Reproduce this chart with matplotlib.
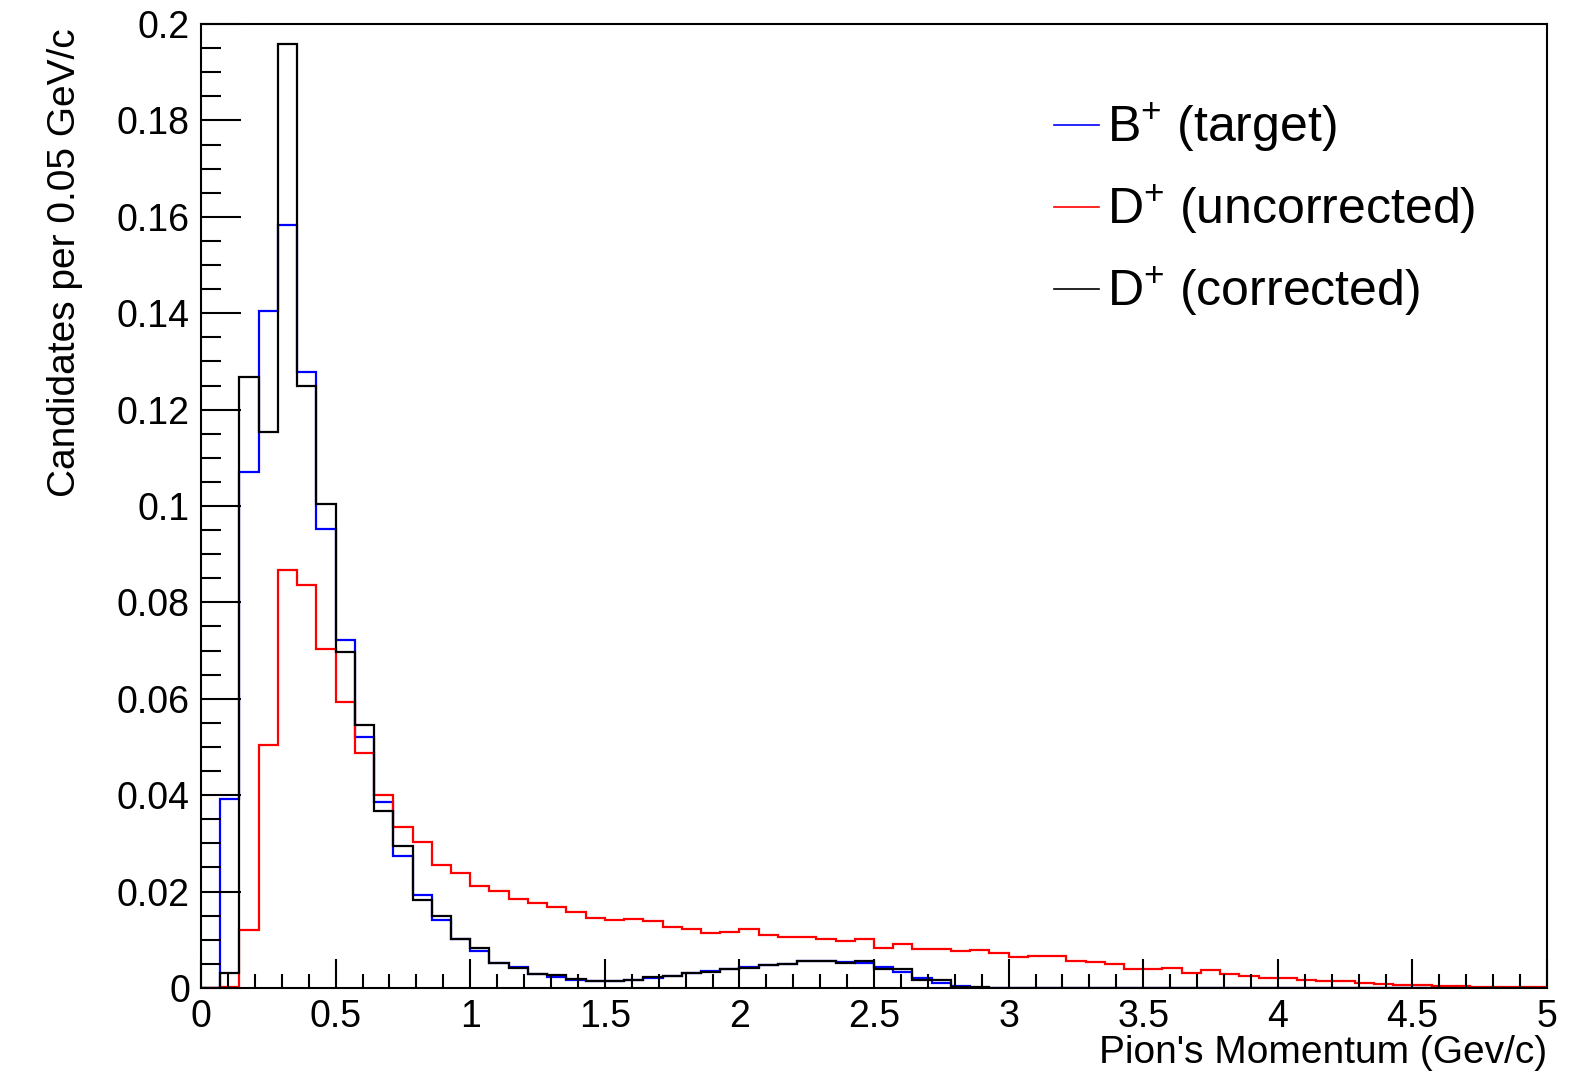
import numpy as np
import matplotlib
matplotlib.use("Agg")
import matplotlib.pyplot as plt
from matplotlib.ticker import MultipleLocator, FuncFormatter

plt.rcParams["font.family"] = ["Liberation Sans", "DejaVu Sans"]
plt.rcParams["mathtext.fontset"] = "custom"
plt.rcParams["mathtext.rm"] = "Liberation Sans"
plt.rcParams["mathtext.it"] = "Liberation Sans:italic"

# pion momentum histograms, 70 bins over 0-5 GeV/c, normalised
x_min, x_max, n_bins = 0.0, 5.0, 70

b_target = [
    0.0, 0.0393, 0.1071, 0.1405, 0.1582, 0.1278, 0.0952, 0.0721, 0.0520, 0.0385,
    0.0273, 0.0192, 0.0142, 0.0102, 0.0076, 0.0052, 0.0044, 0.0030, 0.0022, 0.0017,
    0.0015, 0.0015, 0.0017, 0.0020, 0.0025, 0.0032, 0.0035, 0.0040, 0.0043, 0.0047,
    0.0050, 0.0056, 0.0056, 0.0053, 0.0051, 0.0043, 0.0033, 0.0021, 0.0011, 0.0004,
    0.0, 0.0, 0.0, 0.0, 0.0, 0.0, 0.0, 0.0, 0.0, 0.0,
    0.0, 0.0, 0.0, 0.0, 0.0, 0.0, 0.0, 0.0, 0.0, 0.0,
    0.0, 0.0, 0.0, 0.0, 0.0, 0.0, 0.0, 0.0, 0.0, 0.0,
]

d_uncorrected = [
    0.0, 0.0003, 0.0121, 0.0504, 0.0868, 0.0837, 0.0703, 0.0593, 0.0488, 0.0400,
    0.0335, 0.0302, 0.0255, 0.0239, 0.0211, 0.0201, 0.0185, 0.0177, 0.0168, 0.0157,
    0.0146, 0.0140, 0.0143, 0.0139, 0.0126, 0.0122, 0.0114, 0.0117, 0.0122, 0.0109,
    0.0106, 0.0105, 0.0101, 0.0097, 0.0102, 0.0083, 0.0091, 0.0081, 0.0081, 0.0076,
    0.0078, 0.0073, 0.0065, 0.0067, 0.0066, 0.0057, 0.0053, 0.0049, 0.0040, 0.0040,
    0.0042, 0.0031, 0.0037, 0.0030, 0.0025, 0.0020, 0.0020, 0.0017, 0.0014, 0.0014,
    0.0010, 0.0009, 0.0007, 0.0007, 0.0004, 0.0004, 0.0003, 0.0002, 0.0001, 0.0001,
]

d_corrected = [
    0.0, 0.0031, 0.1267, 0.1153, 0.1959, 0.1250, 0.1004, 0.0697, 0.0545, 0.0368,
    0.0295, 0.0183, 0.0150, 0.0102, 0.0083, 0.0052, 0.0042, 0.0028, 0.0026, 0.0018,
    0.0015, 0.0015, 0.0017, 0.0022, 0.0024, 0.0031, 0.0034, 0.0040, 0.0042, 0.0047,
    0.0049, 0.0056, 0.0055, 0.0051, 0.0055, 0.0040, 0.0040, 0.0017, 0.0016, 0.0001,
    0.0001, 0.0, 0.0, 0.0, 0.0, 0.0, 0.0, 0.0, 0.0, 0.0,
    0.0, 0.0, 0.0, 0.0, 0.0, 0.0, 0.0, 0.0, 0.0, 0.0,
    0.0, 0.0, 0.0, 0.0, 0.0, 0.0, 0.0, 0.0, 0.0, 0.0,
]

edges = np.linspace(x_min, x_max, n_bins + 1)

fig = plt.figure(figsize=(15.73, 10.82), dpi=100)
ax = fig.add_axes([0.1278, 0.0869, 0.8557, 0.8909])

lw = 1.6
ax.stairs(b_target, edges, color="#0000ff", linewidth=lw)
ax.stairs(d_uncorrected, edges, color="#ff0000", linewidth=lw)
ax.stairs(d_corrected, edges, color="black", linewidth=lw)

ax.set_xlim(x_min, x_max)
ax.set_ylim(0, 0.2)

# ROOT-like axes: inward ticks on left/bottom only
fmt = FuncFormatter(lambda v, p: "%g" % round(v, 6))
ax.xaxis.set_major_locator(MultipleLocator(0.5))
ax.xaxis.set_minor_locator(MultipleLocator(0.1))
ax.yaxis.set_major_locator(MultipleLocator(0.02))
ax.yaxis.set_minor_locator(MultipleLocator(0.005))
ax.xaxis.set_major_formatter(fmt)
ax.yaxis.set_major_formatter(fmt)

ax.tick_params(axis="x", which="major", direction="in", length=21, width=1.5,
               labelsize=27, pad=8)
ax.tick_params(axis="x", which="minor", direction="in", length=10, width=1.5)
ax.tick_params(axis="y", which="major", direction="in", length=29, width=1.5,
               labelsize=27, pad=8)
ax.tick_params(axis="y", which="minor", direction="in", length=14.5, width=1.5)
ax.tick_params(top=False, right=False, which="both")

for sp in ax.spines.values():
    sp.set_linewidth(1.5)

ax.set_xlabel("Pion's Momentum (Gev/c)", fontsize=28, loc="right")
ax.xaxis.set_label_coords(1.0, -0.049)
ax.set_ylabel("Candidates per 0.05 GeV/c", fontsize=28, loc="top")
ax.yaxis.set_label_coords(-0.088, 0.996)

leg = ax.legend(
    handles=[
        plt.Line2D([], [], color="#0000ff", linewidth=1.2),
        plt.Line2D([], [], color="#ff0000", linewidth=1.2),
        plt.Line2D([], [], color="black", linewidth=1.2),
    ],
    labels=[r"B$^{+}$ (target)", r"D$^{+}$ (uncorrected)", r"D$^{+}$ (corrected)"],
    loc="upper left", bbox_to_anchor=(0.619, 0.941), frameon=False,
    fontsize=36, handlelength=0.9, handletextpad=0.16, labelspacing=0.58,
    borderaxespad=0,
)

fig.savefig("out.png", dpi=100)
